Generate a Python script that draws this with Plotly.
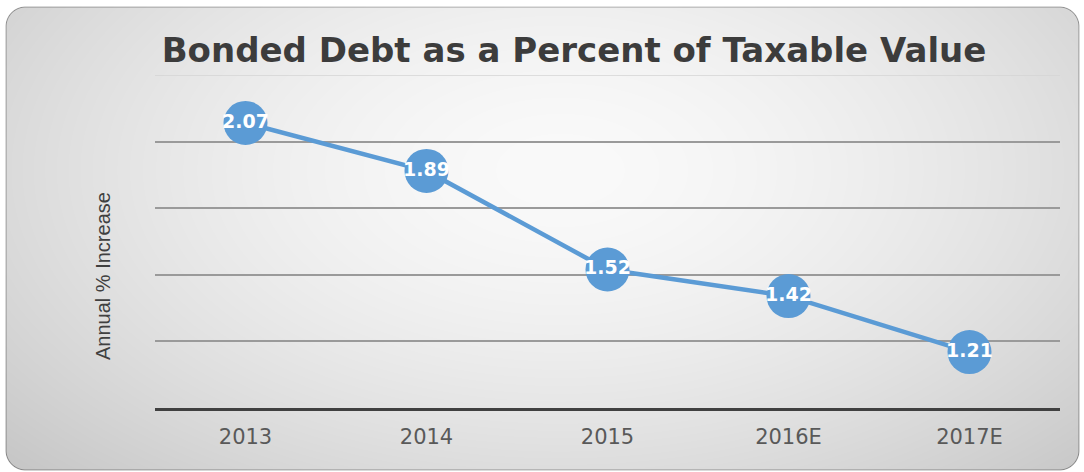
import base64
import struct
import zlib

import numpy as np
import plotly.graph_objects as go

# ---- data ----
categories = ["2013", "2014", "2015", "2016E", "2017E"]
values = [2.07, 1.89, 1.52, 1.42, 1.21]
value_labels = ["2.07", "1.89", "1.52", "1.42", "1.21"]
title_text = "Bonded Debt as a Percent of Taxable Value"
y_title = "Annual % Increase"

# ---- figure geometry ----
W, H = 1084, 472
ML, MR, MT, MB = 155, 24, 75, 64
PW, PH = W - ML - MR, H - MT - MB
Y_MIN, Y_MAX, Y_STEP = 1.0, 2.25, 0.25


def png_data_uri(rgba):
    h, w, _ = rgba.shape
    raw = b"".join(b"\x00" + rgba[r].tobytes() for r in range(h))

    def chunk(tag, data):
        c = struct.pack(">I", len(data)) + tag + data
        return c + struct.pack(">I", zlib.crc32(tag + data) & 0xFFFFFFFF)

    png = b"\x89PNG\r\n\x1a\n"
    png += chunk(b"IHDR", struct.pack(">IIBBBBB", w, h, 8, 6, 0, 0, 0))
    png += chunk(b"IDAT", zlib.compress(raw, 9))
    png += chunk(b"IEND", b"")
    return "data:image/png;base64," + base64.b64encode(png).decode()


def background():
    yy, xx = np.mgrid[0:H, 0:W].astype(float)
    dx = (xx - 560) / 560
    dy = (yy - 170) / 320
    d = np.sqrt(dx ** 2 + dy ** 2)
    v = 250 - 32 * d ** 1.6
    v = np.clip(v, 0, 255)
    # rounded rectangle mask
    x0, y0, x1, y1, r = 5.0, 6.0, 1079.0, 470.0, 20.0
    cx = np.clip(xx, x0 + r, x1 - r)
    cy = np.clip(yy, y0 + r, y1 - r)
    dist = np.sqrt((xx - cx) ** 2 + (yy - cy) ** 2) - r  # <0 inside
    alpha = np.clip(0.5 - dist, 0, 1)
    border = np.clip(1 - np.abs(dist + 0.5), 0, 1)
    v = v * (1 - border * 0.35)
    img = np.zeros((H, W, 4), dtype=np.uint8)
    img[..., 0] = v
    img[..., 1] = v
    img[..., 2] = v
    img[..., 3] = (alpha * 255).astype(np.uint8)
    return png_data_uri(img)


fig = go.Figure()
fig.add_trace(
    go.Scatter(
        x=categories,
        y=values,
        mode="lines+markers+text",
        text=value_labels,
        textposition="middle center",
        textfont=dict(family="DejaVu Sans", size=19, color="white", weight="bold"),
        line=dict(color="#5B9BD5", width=4.5),
        marker=dict(size=44, color="#5B9BD5", line=dict(width=0)),
        cliponaxis=False,
        hoverinfo="skip",
    )
)

fig.add_layout_image(
    dict(
        source=background(),
        xref="paper",
        yref="paper",
        x=-ML / PW,
        y=1 + MT / PH,
        sizex=W / PW,
        sizey=H / PH,
        xanchor="left",
        yanchor="top",
        sizing="stretch",
        layer="below",
    )
)

# faint top gridline at the range maximum (plotly omits it)
fig.add_shape(
    type="line",
    xref="paper",
    yref="y",
    x0=0,
    x1=1,
    y0=Y_MAX,
    y1=Y_MAX,
    line=dict(color="#d4d4d4", width=1.5),
    layer="below",
)

fig.add_annotation(
    text=y_title,
    xref="paper",
    yref="paper",
    x=(103 - ML) / PW,
    y=(408 - 276) / PH,
    xanchor="center",
    yanchor="middle",
    textangle=-90,
    showarrow=False,
    font=dict(family="Liberation Sans Narrow, Arial Narrow, sans-serif", size=20, color="#404040"),
)

fig.update_layout(
    width=W,
    height=H,
    margin=dict(l=ML, r=MR, t=MT, b=MB),
    paper_bgcolor="white",
    plot_bgcolor="rgba(0,0,0,0)",
    showlegend=False,
    title=dict(
        text=title_text,
        font=dict(family="DejaVu Sans", size=34, color="#3c3c3c", weight="bold"),
        xref="container",
        yref="container",
        x=574 / W,
        y=1 - 50 / H,
        xanchor="center",
        yanchor="middle",
    ),
    xaxis=dict(
        type="category",
        range=[-0.5, len(categories) - 0.5],
        showgrid=False,
        showline=True,
        linecolor="#404040",
        linewidth=3,
        ticks="",
        ticklabelstandoff=8,
        tickfont=dict(family="DejaVu Sans", size=21, color="#595959"),
        fixedrange=True,
    ),
    yaxis=dict(
        range=[Y_MIN, Y_MAX],
        dtick=Y_STEP,
        tick0=Y_MIN,
        showgrid=True,
        gridcolor="#9a9a9a",
        gridwidth=1.5,
        showticklabels=False,
        zeroline=False,
        showline=False,
        ticks="",
        fixedrange=True,
    ),
)

fig.write_html("out.html")
